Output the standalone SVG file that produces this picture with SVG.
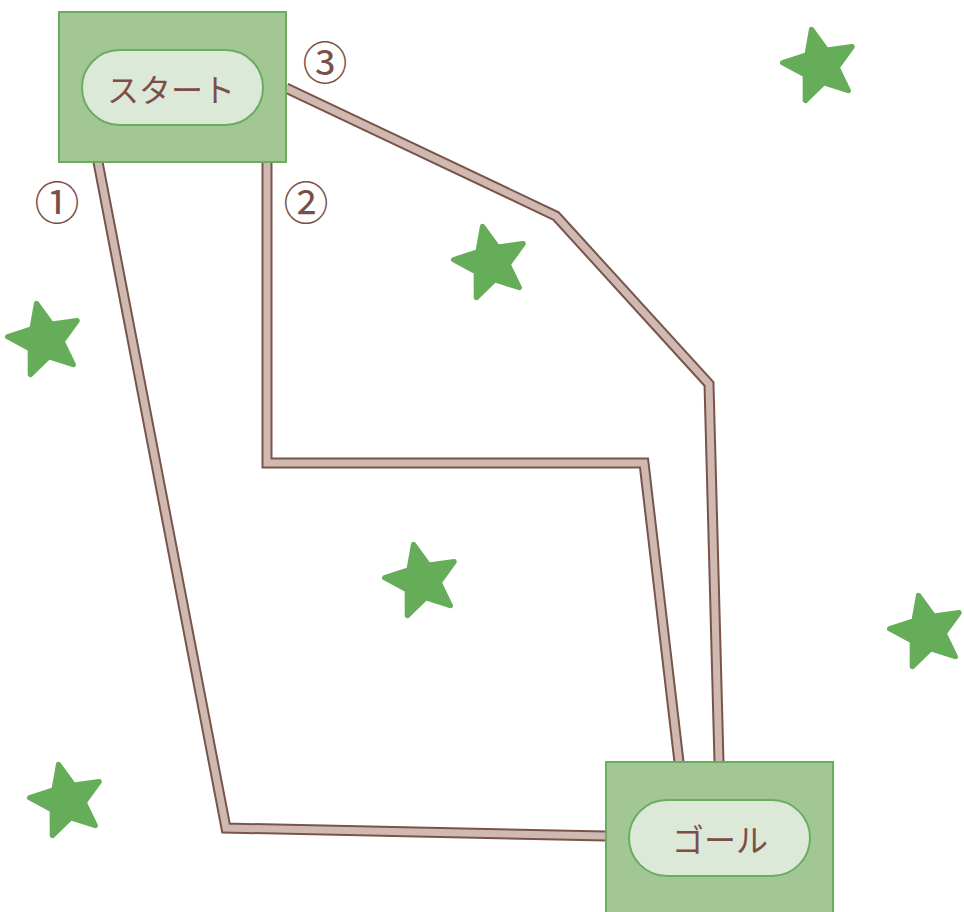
<svg xmlns="http://www.w3.org/2000/svg" width="964" height="912" viewBox="0 0 964 912">
<style>
.box{fill:#a2c794;stroke:#6aad5e;stroke-width:2}
.pill{fill:#dde9d8;stroke:#6aad5e;stroke-width:2}
.lbl{font-family:"Noto Sans CJK JP","Noto Sans",sans-serif;fill:#7b4f47;text-anchor:middle;dominant-baseline:central}
.roadO{fill:none;stroke:#795548;stroke-width:11;stroke-linejoin:miter}
.roadI{fill:none;stroke:#cfb9b2;stroke-width:7;stroke-linejoin:miter}
.star{fill:#66ad5a;stroke:#66ad5a;stroke-width:5;stroke-linejoin:round}
</style>
<defs>
<path id="star" d="M0,-35 L9.4,-12.94 L33.29,-10.82 L15.22,4.94 L20.57,28.32 L0,16 L-20.57,28.32 L-15.22,4.94 L-33.29,-10.82 L-9.4,-12.94 Z"/>
</defs>
<g id="stars">
<use href="#star" class="star" transform="translate(45,340) rotate(-13) scale(1.07)"/>
<use href="#star" class="star" transform="translate(491,263) rotate(-13) scale(1.07)"/>
<use href="#star" class="star" transform="translate(820,66) rotate(-13) scale(1.07)"/>
<use href="#star" class="star" transform="translate(422,581) rotate(-13) scale(1.07)"/>
<use href="#star" class="star" transform="translate(927,632) rotate(-13) scale(1.07)"/>
<use href="#star" class="star" transform="translate(67,801) rotate(-13) scale(1.07)"/>
</g>
<g id="connectors">
<path class="roadO" d="M98,162 L226,828 L606,836"/>
<path class="roadI" d="M98,162 L226,828 L606,836"/>
<path class="roadO" d="M267,162 L267,463 L644,463 L679,762"/>
<path class="roadI" d="M267,162 L267,463 L644,463 L679,762"/>
<path class="roadO" d="M286,88 L556,216 L709,384 L719,762"/>
<path class="roadI" d="M286,88 L556,216 L709,384 L719,762"/>
</g>
<g id="start">
<rect class="box" x="59" y="12" width="227" height="150"/>
<rect class="pill" x="82" y="50" width="181" height="75" rx="37.5"/>
<text class="lbl" x="171" y="88" font-size="32">スタート</text>
</g>
<g id="goal">
<rect class="box" x="606" y="762" width="227" height="160"/>
<rect class="pill" x="629" y="800" width="181" height="76" rx="38"/>
<text class="lbl" x="720" y="838" font-size="32">ゴール</text>
</g>
<g id="labels">
<text class="lbl" x="57" y="200" font-size="45">①</text>
<text class="lbl" x="306" y="200" font-size="45">②</text>
<text class="lbl" x="325" y="60" font-size="45">③</text>
</g>
</svg>
